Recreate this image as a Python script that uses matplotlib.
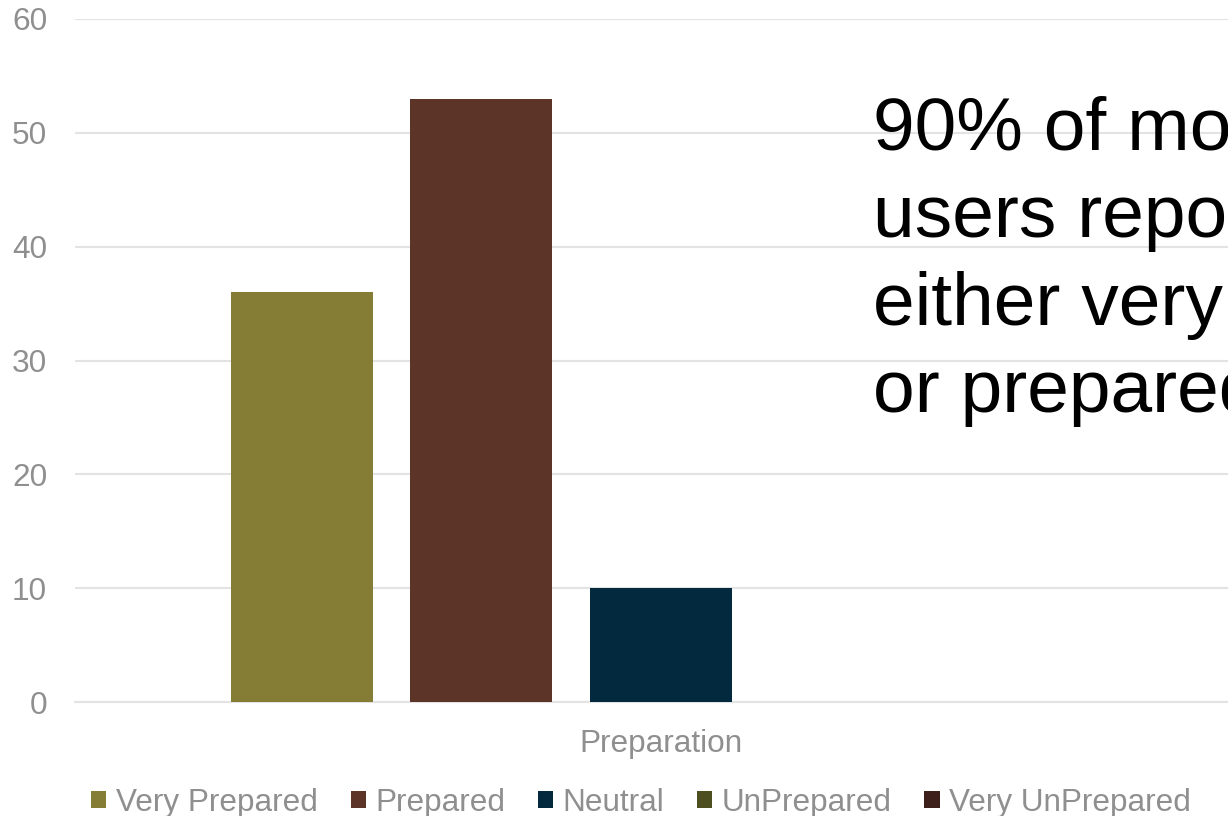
import matplotlib
matplotlib.use("Agg")
import matplotlib.pyplot as plt
import numpy as np

plt.rcParams['font.family'] = ['Liberation Sans', 'DejaVu Sans']

categories = ["Preparation"]
series = ["Very Prepared", "Prepared", "Neutral", "UnPrepared", "Very UnPrepared"]
values = [36, 53, 10, 0, 0]
colors = ["#857D36", "#5C3428", "#03293F", "#4D4F20", "#3D2019"]
yticks = [0, 10, 20, 30, 40, 50, 60]
note_lines = ["90% of mobile", "users reported", "either very prepared", "or prepared"]

W, H = 1228, 816
fig = plt.figure(figsize=(W / 100, H / 100), dpi=100)
ax = fig.add_axes([75 / W, 1 - 702 / H, (W - 75) / W, (702 - 19) / H])

grid_c = "#E3E3E3"
text_c = "#8F8F8F"
fs = 22.7

spacing = 179.5 / 1172
bw = 142 / 1172
n = len(series)
for i, (s, v, c) in enumerate(zip(series, values, colors)):
    ax.bar(np.arange(len(categories)) + (i - (n - 1) / 2) * spacing, [v], width=bw, color=c, label=s, zorder=3)

ax.set_xlim(-0.5, -0.5 + (W - 75) / 1172)
ax.set_ylim(0, 60)
ax.set_yticks(yticks)
ax.set_xticks(np.arange(len(categories)))
ax.set_xticklabels(categories)
ax.yaxis.grid(True, color=grid_c, linewidth=1.5, zorder=0)
ax.set_axisbelow(True)
for sp in ["top", "right", "left"]:
    ax.spines[sp].set_visible(False)
ax.spines["bottom"].set_color(grid_c)
ax.spines["bottom"].set_linewidth(1.5)
ax.tick_params(axis="y", length=0, pad=20, labelsize=fs, labelcolor=text_c)
ax.tick_params(axis="x", length=0, pad=19.5, labelsize=fs, labelcolor=text_c)
for lbl in ax.get_yticklabels():
    lbl.set_clip_on(False)

baselines = [150, 237, 325, 412]
for line, yb in zip(note_lines, baselines):
    fig.text(873 / W, 1 - yb / H, line, fontsize=54, color="black", va="baseline", ha="left")

leg = fig.legend(loc="center", bbox_to_anchor=(641 / W, 1 - 803 / H), ncol=5, frameon=False,
                 fontsize=fs, handlelength=0.48, handleheight=0.45, handletextpad=0.29,
                 columnspacing=1.05, borderaxespad=0, borderpad=0)
for t in leg.get_texts():
    t.set_color(text_c)

fig.savefig("out.png", dpi=100)
